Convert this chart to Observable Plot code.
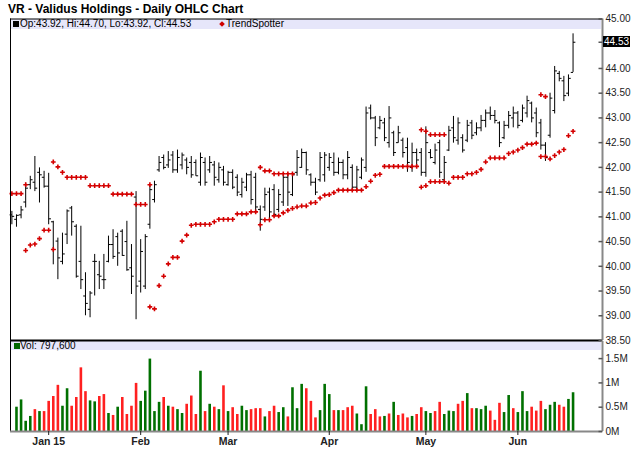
<!DOCTYPE html>
<html><head><meta charset="utf-8">
<script src="https://cdn.jsdelivr.net/npm/d3@7"></script>
<script src="https://cdn.jsdelivr.net/npm/@observablehq/plot@0.6"></script>
<style>
body{margin:0;background:#fff;width:640px;height:468px;position:relative;overflow:hidden;font-family:"Liberation Sans",Arial,sans-serif;}
.abs{position:absolute;}
svg{position:absolute;left:0;}
</style></head><body>
<div class="abs" style="left:8px;top:2px;font-weight:bold;font-size:12px;line-height:14px;color:#000;">VR - Validus Holdings - Daily OHLC Chart</div>
<div class="abs" id="pband" style="left:10px;top:19px;width:591px;height:10px;background:#e6e6fa;font-size:10px;line-height:10px;color:#000;">
  <span class="abs" style="left:3px;top:2px;width:6px;height:6px;background:#000;"></span>
  <span class="abs" id="ohlcText" style="left:10px;top:0;white-space:nowrap;"></span>
  <span class="abs" style="left:210px;top:3px;width:4px;height:4px;background:#d00000;transform:rotate(45deg);"></span>
  <span class="abs" style="left:216px;top:0;white-space:nowrap;">TrendSpotter</span>
</div>
<div class="abs" id="vband" style="left:10px;top:341px;width:591px;height:9px;background:#e6e6fa;font-size:10px;line-height:9px;color:#000;">
  <span class="abs" style="left:4px;top:2px;width:6px;height:6px;background:#006600;"></span>
  <span class="abs" id="volText" style="left:10px;top:0;white-space:nowrap;"></span>
</div>
<div id="price"></div>
<div id="vol"></div>
<script>
// ---- data (Dec 19 2014 .. Jun 17 2015, trading days) ----
const open = [41.04,40.95,41.04,41.30,41.65,41.70,41.90,41.80,41.62,40.90,
 40.51,40.10,40.65,41.18,40.81,40.10,39.40,39.13,40.10,39.83,
 39.73,40.10,40.44,40.60,40.71,40.50,39.97,41.40,39.70,39.60,
 40.85,41.35,41.95,42.20,42.05,42.25,41.95,42.05,42.15,42.10,
 42.10,41.70,42.10,41.95,42.05,41.75,41.95,41.65,41.90,41.80,
 41.45,41.60,41.85,41.80,41.15,41.20,41.50,41.55,41.15,41.30,
 41.80,41.45,41.90,42.00,42.30,41.85,41.70,41.75,41.85,42.00,
 42.10,41.90,42.10,41.85,42.00,41.60,41.80,42.00,43.20,43.00,
 42.80,42.90,42.50,42.70,42.50,42.55,42.40,42.00,42.30,42.30,
 41.90,42.30,42.10,42.50,41.75,42.35,42.80,42.55,42.60,42.55,
 42.90,42.70,42.80,42.95,43.10,43.05,42.90,42.60,42.85,43.00,
 43.10,42.95,43.10,43.30,43.10,42.90,42.45,42.65,43.15,43.90,
 43.75,43.50,43.92];
const high = [41.11,41.04,41.21,41.68,41.82,42.22,41.99,41.92,41.88,40.91,
 40.57,40.67,41.14,41.21,40.84,40.81,39.87,39.49,40.24,40.10,
 40.24,40.61,40.74,40.67,40.74,40.91,40.44,41.51,40.54,40.64,
 41.65,41.72,42.22,42.25,42.32,42.32,42.35,42.29,42.19,42.22,
 42.15,42.29,42.19,42.22,42.12,42.09,42.02,41.92,41.95,41.85,
 41.78,41.88,41.92,41.88,41.22,41.58,41.58,41.65,41.55,41.88,
 41.88,41.88,42.34,42.37,42.31,41.87,41.78,42.30,42.30,42.28,
 42.29,42.19,42.15,42.32,42.05,42.02,42.19,43.22,43.26,43.03,
 43.03,42.99,43.23,42.73,42.83,42.59,42.59,42.49,42.37,42.38,
 42.82,42.36,42.47,42.55,42.22,42.83,43.03,43.00,42.66,42.95,
 42.95,42.90,43.05,43.16,43.22,43.15,42.92,42.93,43.13,43.22,
 43.13,43.26,43.44,43.32,43.20,42.97,42.50,43.50,44.04,43.94,
 43.84,43.87,44.70];
const low = [40.84,40.79,40.96,41.18,41.55,41.51,41.28,41.58,40.84,40.03,
 39.73,40.03,40.44,40.61,39.76,39.53,39.00,38.96,39.40,39.53,
 39.53,40.07,40.14,40.00,40.20,39.90,39.43,38.92,39.46,39.53,
 40.75,41.28,41.90,41.95,41.98,41.88,41.88,41.95,41.85,41.78,
 41.82,41.62,41.62,41.88,41.62,41.68,41.62,41.62,41.55,41.41,
 41.38,41.51,41.24,41.08,40.71,41.11,40.94,41.01,41.08,41.21,
 41.21,41.41,41.82,41.98,41.84,41.62,41.43,41.70,41.70,41.92,
 41.82,41.85,41.75,41.75,41.51,41.55,41.75,41.90,42.96,42.42,
 42.76,42.52,42.39,42.22,42.49,42.19,41.90,41.90,42.03,41.82,
 41.80,42.17,42.05,41.78,41.70,42.32,42.49,42.45,42.29,42.50,
 42.56,42.64,42.72,42.80,42.95,42.88,42.40,42.56,42.78,42.80,
 42.78,42.90,43.00,42.90,42.60,42.35,42.12,42.59,43.08,43.73,
 43.33,43.43,43.92];
const close = [41.01,41.03,41.14,41.58,41.75,41.58,41.85,41.62,40.96,40.34,
 40.17,40.25,41.12,40.90,39.80,39.73,39.25,39.46,40.10,39.80,
 39.73,40.44,40.20,40.27,40.22,39.93,39.80,39.60,40.30,40.60,
 41.55,41.65,42.10,42.00,42.15,41.95,42.20,42.25,42.00,41.85,
 41.83,42.20,41.70,42.10,41.80,42.00,41.70,41.90,41.60,41.50,
 41.70,41.85,41.35,41.20,40.95,41.45,41.10,41.05,41.45,41.80,
 41.50,41.85,42.20,42.30,41.95,41.70,41.50,42.20,42.25,42.20,
 41.90,42.10,41.85,42.20,41.60,41.95,42.15,43.10,43.00,42.60,
 42.95,42.60,43.00,42.30,42.70,42.30,42.10,42.30,42.15,41.90,
 42.50,42.20,42.35,41.90,42.10,42.75,42.60,42.90,42.35,42.85,
 42.65,42.80,42.95,43.10,43.05,42.95,42.50,42.85,43.05,43.10,
 42.85,43.20,43.35,43.00,42.70,42.45,42.20,43.40,43.95,43.80,
 43.45,43.80,44.53];
// volume in millions (first day not shown)
const volume = [null,
 0.50,0.65,0.21,0.31,0.45,0.41,0.41,0.62,0.72,0.95,
 0.52,0.88,0.52,0.70,1.31,0.82,0.63,0.61,0.72,0.76,
 0.37,0.33,0.50,0.70,0.35,0.52,0.99,0.62,0.83,1.49,
 0.41,0.60,0.70,0.52,0.50,0.45,0.37,0.56,0.73,0.35,
 1.24,0.41,0.56,0.50,0.45,0.94,0.41,0.49,0.35,0.52,
 0.43,0.45,0.47,0.47,0.30,0.41,0.52,0.39,0.49,0.30,
 0.90,0.47,0.97,0.88,0.62,0.28,0.43,
 0.97,0.76,0.43,0.43,0.43,0.49,0.52,0.36,0.14,0.92,
 0.35,0.45,0.30,0.31,0.36,0.60,0.33,0.36,0.28,0.31,
 0.35,0.49,0.41,0.37,0.41,0.60,0.35,0.42,0.41,0.56,
 0.62,0.78,0.47,0.47,0.45,0.52,0.42,0.23,0.58,0.39,
 0.74,0.47,0.39,0.82,0.41,0.50,0.42,0.62,0.45,0.54,
 0.60,0.54,0.50,0.66,0.7976];
// G = up day, R = down day
const volumeDirection = ("-" +
 "GGGGRGRRRR" + "GGRRRRGGRR" + "GRGRRRRGGG" + "GGRGRGGRRR" + "GRGRGRGRRG" +
 "GRRRGRRGGR" + "GGGRRRG" + "GGRGRRRGGG" + "RRRGRGRRRG" + "RRGGRRGGGR" +
 "RGRGGGRRRG" + "GRGGGRRRGG" + "GRRGG").split("");
const _ = null;
const trendUpper = [41.47,41.47,41.47,41.65,_,_,_,_,_,42.11,
 42.01,41.90,41.80,41.80,41.80,41.80,41.80,41.63,41.63,41.63,
 41.63,41.63,41.46,41.46,41.46,41.46,41.46,41.25,41.25,41.25,
 41.65,_,_,_,_,_,_,_,_,_,
 _,_,_,_,_,_,_,_,_,_,
 _,_,_,_,42.00,41.93,41.93,41.87,41.87,41.87,
 41.87,41.87,_,_,_,_,_,_,_,_,
 _,_,_,_,_,_,_,_,_,_,
 _,_,_,_,_,_,_,_,_,42.76,
 42.73,42.66,42.66,42.66,42.66,_,_,_,_,_,
 _,_,_,_,_,_,_,_,_,_,
 _,_,_,_,_,43.47,43.43,_,_,_,
 _,_,_];
const trendLower = [_,_,_,40.32,40.43,40.45,40.56,40.73,40.73,40.34,
 _,_,_,_,_,_,_,_,_,_,
 _,_,_,_,_,_,_,_,_,_,
 39.18,39.14,39.61,39.80,40.05,40.18,40.18,40.51,40.63,40.83,
 40.85,40.85,40.85,40.85,40.90,40.95,40.95,40.95,40.95,41.06,
 41.06,41.06,41.10,41.10,40.84,40.94,40.94,41.02,41.02,41.08,
 41.13,41.17,41.20,41.22,41.22,41.28,41.29,41.38,41.44,41.45,
 41.49,41.54,41.54,41.54,41.54,41.54,41.54,41.61,41.72,41.84,
 41.86,42.02,42.02,42.02,42.02,42.02,42.02,42.02,42.02,41.60,
 41.63,41.71,41.71,41.71,41.71,41.68,41.80,41.80,41.80,41.87,
 41.87,41.90,41.96,42.11,42.19,42.19,42.19,42.19,42.28,42.31,
 42.35,42.40,42.47,42.47,42.49,42.22,42.22,42.17,42.24,42.31,
 42.36,42.64,42.73];
const monthTickIndex = [8, 28, 47, 69, 90, 110];
const monthTickLabels = ["Jan 15", "Feb", "Mar", "Apr", "May", "Jun"];
const priceTicks = [45, 44, 43.5, 43, 42.5, 42, 41.5, 41, 40.5, 40, 39.5, 39, 38.5];
const volumeTicks = [0, 0.5e6, 1e6, 1.5e6];

// ---- build ----
const xDomain = [-0.3, 128.4];
const bars = open.map((o, i) => ({i, open: o, high: high[i], low: low[i], close: close[i]}));
const last = bars[bars.length - 1];
const vols = volume.map((v, i) => ({i, v: v == null ? null : v * 1e6, dir: volumeDirection[i]})).filter(d => d.v != null);
const tsU = trendUpper.map((v, i) => ({i, v})).filter(d => d.v != null);
const tsL = trendLower.map((v, i) => ({i, v})).filter(d => d.v != null);

const leftTick = {draw(ctx) { ctx.moveTo(-2.3, 0); ctx.lineTo(0, 0); }};
const rightTick = {draw(ctx) { ctx.moveTo(0, 0); ctx.lineTo(2.3, 0); }};
const axisDash = {draw(ctx) { ctx.moveTo(-4, 0); ctx.lineTo(0, 0); }};
const font = "'Liberation Sans', Arial, sans-serif";

const priceChart = Plot.plot({
  width: 640, height: 350,
  marginLeft: 10, marginRight: 38, marginTop: 18.5, marginBottom: 10,
  x: {domain: xDomain, axis: null},
  y: {domain: [38.5, 45]},
  style: {background: "transparent", fontFamily: font, fontSize: "10px", color: "#222", overflow: "visible"},
  marks: [
    Plot.ruleX(bars, {x: "i", y1: "low", y2: "high", stroke: "#000", strokeWidth: 1}),
    Plot.dot(bars, {x: "i", y: "open", symbol: leftTick, stroke: "#000", fill: "none", strokeWidth: 1}),
    Plot.dot(bars, {x: "i", y: "close", symbol: rightTick, stroke: "#000", fill: "none", strokeWidth: 1}),
    Plot.dot(tsU, {x: "i", y: "v", symbol: "cross", r: 2.0, fill: "#d40000", stroke: "none"}),
    Plot.dot(tsL, {x: "i", y: "v", symbol: "cross", r: 2.0, fill: "#d40000", stroke: "none"}),
    Plot.ruleX([xDomain[0]], {stroke: "#000", strokeWidth: 1}),
    Plot.ruleY([45], {stroke: "#000", strokeWidth: 1}),
    Plot.ruleY([38.5], {stroke: "#000", strokeWidth: 2}),
    Plot.ruleX([xDomain[1]], {stroke: "#888", strokeWidth: 2}),
    Plot.dot(priceTicks.concat([last.close]), {x: () => xDomain[1], y: d => d, symbol: axisDash, stroke: "#555", fill: "none"}),
    Plot.axisY(priceTicks, {anchor: "right", label: null, tickSize: 0, tickPadding: 3, tickFormat: d => d.toFixed(2), fontSize: 10})
  ]
});
priceChart.style.top = "0px";
document.getElementById("price").appendChild(priceChart);

const volChart = Plot.plot({
  width: 640, height: 129,
  marginLeft: 10, marginRight: 38, marginTop: 2, marginBottom: 37,
  x: {domain: xDomain, label: null},
  y: {domain: [0, 1.852e6], label: null},
  color: {type: "identity"},
  style: {background: "transparent", fontFamily: font, fontSize: "10px", color: "#222", overflow: "visible"},
  marks: [
    Plot.ruleX(vols, {x: "i", y1: 0, y2: "v", stroke: d => d.dir === "G" ? "#007000" : "#ff2020", strokeWidth: 2.6}),
    Plot.ruleX([xDomain[0]], {stroke: "#000", strokeWidth: 1}),
    Plot.ruleY([0], {stroke: "#888", strokeWidth: 2}),
    Plot.ruleX([xDomain[1]], {stroke: "#888", strokeWidth: 2}),
    Plot.dot(volumeTicks, {x: () => xDomain[1], y: d => d, symbol: axisDash, stroke: "#555", fill: "none"}),
    Plot.axisY(volumeTicks, {anchor: "right", label: null, tickSize: 0, tickPadding: 3, tickFormat: d => (d / 1e6) + "M", fontSize: 10}),
    Plot.axisX(monthTickIndex, {anchor: "bottom", label: null, tickSize: 4, tickPadding: 2, tickFormat: d => monthTickLabels[monthTickIndex.indexOf(d)], fontWeight: "bold", fontSize: 10.5})
  ]
});
volChart.style.top = "339px";
document.getElementById("vol").appendChild(volChart);

// legend texts
const f2 = v => v.toFixed(2);
document.getElementById("ohlcText").textContent = `Op:${f2(last.open)}, Hi:${f2(last.high)}, Lo:${f2(last.low)}, Cl:${f2(last.close)}`;
document.getElementById("volText").textContent = "Vol: " + d3.format(",")(Math.round(volume[volume.length - 1] * 1e6));

// last close highlight on the price axis
const yLast = priceChart.scale("y").apply(last.close);
const tag = document.createElement("div");
tag.className = "abs";
tag.textContent = f2(last.close);
Object.assign(tag.style, {left: "603px", top: (yLast - 5.5) + "px", height: "11px", lineHeight: "11px", padding: "0 1px",
  background: "#000", color: "#fff", fontSize: "10px", fontFamily: font, zIndex: 5});
document.body.appendChild(tag);
</script>
</body></html>
